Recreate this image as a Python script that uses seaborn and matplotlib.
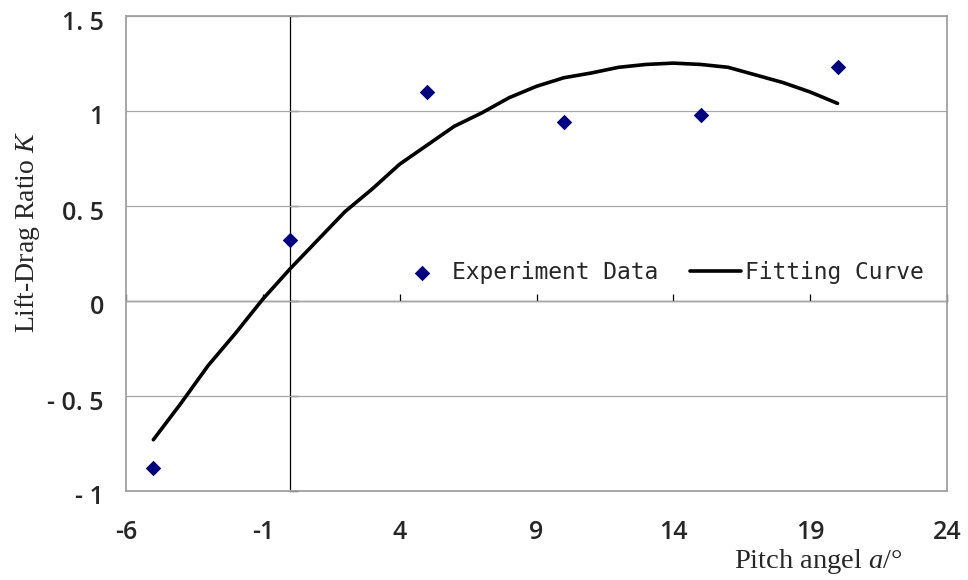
import matplotlib
matplotlib.use("Agg")
import matplotlib.pyplot as plt
import matplotlib.transforms as mtransforms
import seaborn as sns
import pandas as pd

# Measured lift-drag ratio at each pitch angle
pitch_angle = [-5, 0, 5, 10, 15, 20]
lift_drag = [-0.88, 0.32, 1.10, 0.94, 0.98, 1.23]

# Fitted curve sampled at every degree
fit_angle = [-5, -4, -3, -2, -1, 0, 1, 2, 3, 4, 5, 6, 7, 8, 9, 10,
             11, 12, 13, 14, 15, 16, 17, 18, 19, 20]
fit_ratio = [-0.73, -0.54, -0.34, -0.17, 0.01, 0.17, 0.32, 0.47, 0.59, 0.72,
             0.82, 0.92, 0.99, 1.07, 1.13, 1.175, 1.20, 1.23, 1.245, 1.252,
             1.245, 1.23, 1.19, 1.15, 1.10, 1.04]

x_ticks = [-6, -1, 4, 9, 14, 19, 24]
x_tick_labels = ["-6", "-1", "4", "9", "14", "19", "24"]
y_ticks = [-1, -0.5, 0, 0.5, 1, 1.5]
y_tick_labels = ["- 1", "- 0. 5", "0", "0. 5", "1", "1. 5"]

sns.set_style("white")
plt.rcParams["mathtext.fontset"] = "custom"
plt.rcParams["mathtext.rm"] = "Liberation Serif"
plt.rcParams["mathtext.it"] = "Liberation Serif:italic"

exp_df = pd.DataFrame({"angle": pitch_angle, "ratio": lift_drag})
fit_df = pd.DataFrame({"angle": fit_angle, "ratio": fit_ratio})

W, H = 968, 580
fig = plt.figure(figsize=(W / 100, H / 100), dpi=100)
ax = fig.add_axes([126 / W, 1 - 491 / H, (947 - 126) / W, (491 - 16) / H])

xlim = (-6, 24)
ylim = (-1, 1.5)
ax.set_xlim(*xlim)
ax.set_ylim(*ylim)

# horizontal gridlines and grey plot frame
ax.set_yticks(y_ticks)
ax.set_xticks(x_ticks)
ax.yaxis.grid(True, color="#a8a8a8", linewidth=0.9)
ax.xaxis.grid(False)
for sp in ax.spines.values():
    sp.set_color("#a0a0a0")
    sp.set_linewidth(1.3)

tick_font = dict(family="Open Sans", weight="semibold", size=18)
ax.set_xticklabels(x_tick_labels, fontdict=tick_font)
ax.set_yticklabels(y_tick_labels, fontdict=tick_font)
ax.tick_params(axis="both", length=0)
ax.tick_params(axis="x", pad=21)
ax.tick_params(axis="y", pad=16)
shift = mtransforms.ScaledTranslation(0, -4 / 100, fig.dpi_scale_trans)
for lab in ax.get_yticklabels():
    lab.set_transform(lab.get_transform() + shift)

sns.lineplot(data=fit_df, x="angle", y="ratio", ax=ax, color="black",
             linewidth=2.6, label="Fitting Curve", zorder=3)
sns.scatterplot(data=exp_df, x="angle", y="ratio", ax=ax, marker="D",
                color="#000080", s=62, linewidth=0, label="Experiment Data",
                zorder=4)
ax.set_xlabel("")
ax.set_ylabel("")

# axes crossing at zero with inward tick marks
x_zero_frac = (0 - xlim[0]) / (xlim[1] - xlim[0])
y_zero_frac = (0 - ylim[0]) / (ylim[1] - ylim[0])
sec_x = ax.secondary_xaxis(y_zero_frac)
sec_x.set_xticks(x_ticks)
sec_x.tick_params(direction="in", length=5, width=0.9, color="black",
                  labelbottom=False, labeltop=False)
sec_x.spines["bottom"].set_color("black")
sec_x.spines["bottom"].set_linewidth(0.9)
sec_y = ax.secondary_yaxis(x_zero_frac)
sec_y.set_yticks(y_ticks)
sec_y.tick_params(direction="in", length=6, width=0.9, color="black",
                  labelleft=False, labelright=False)
sec_y.spines["left"].set_color("black")
sec_y.spines["left"].set_linewidth(0.9)

handles, labels = ax.get_legend_handles_labels()
order = [labels.index("Experiment Data"), labels.index("Fitting Curve")]
ax.legend([handles[i] for i in order], [labels[i] for i in order],
          loc="center left", bbox_to_anchor=(0.33, 0.459), ncol=2,
          frameon=False, borderpad=0, borderaxespad=0,
          prop=dict(family="DejaVu Sans Mono", size=16.5),
          handlelength=2.2, handletextpad=0.2, columnspacing=1.4)

fig.text(28 / W, 1 - 232 / H, "Lift-Drag Ratio $K$", rotation=90,
         ha="center", va="center", family="Liberation Serif", size=20)
fig.text(903 / W, 1 - 568 / H, "Pitch angel $a$/°", ha="right",
         va="baseline", family="Liberation Serif", size=20.5)

fig.savefig("out.png", dpi=100)
